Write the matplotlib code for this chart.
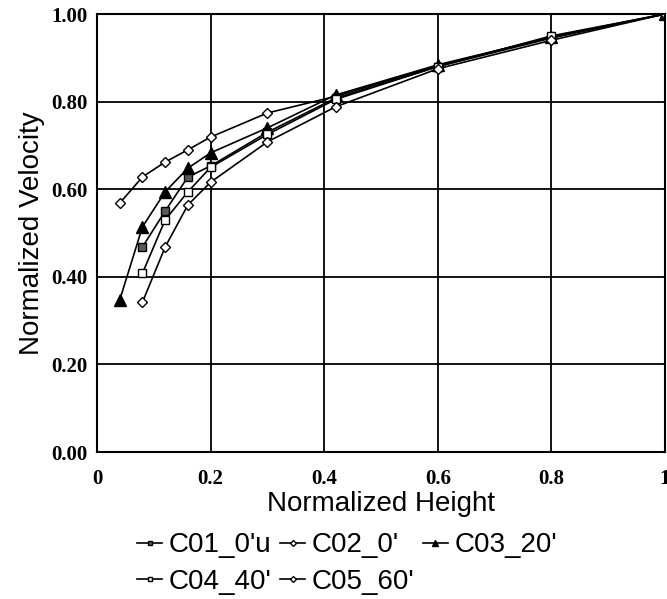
import matplotlib
matplotlib.use("Agg")
import matplotlib.pyplot as plt

# normalized heights shared by all runs
height = [0.04, 0.08, 0.12, 0.16, 0.2, 0.3, 0.42, 0.6, 0.8, 1.0]
height_b = [0.08, 0.12, 0.16, 0.2, 0.3, 0.42, 0.6, 0.8, 1.0]

c01 = [0.468, 0.550, 0.628, 0.653, 0.730, 0.808, 0.880, 0.945, 1.0]
c02 = [0.568, 0.628, 0.662, 0.690, 0.719, 0.774, 0.812, 0.882, 0.948, 1.0]
c03 = [0.347, 0.514, 0.594, 0.648, 0.683, 0.740, 0.815, 0.884, 0.947, 1.0]
c04 = [0.408, 0.530, 0.594, 0.650, 0.725, 0.805, 0.880, 0.950, 1.0]
c05 = [0.342, 0.468, 0.564, 0.616, 0.708, 0.788, 0.875, 0.940, 1.0]

labels = ["C01_0'u", "C02_0'", "C03_20'", "C04_40'", "C05_60'"]

fig = plt.figure(figsize=(6.67, 5.99), dpi=100)
ax = fig.add_axes([97 / 667, 1 - 452 / 599, 568 / 667, 438 / 599])

ax.plot(height_b, c01, color="k", lw=1.2, marker="s", ms=6, mfc="0.35", mec="k", label=labels[0])
ax.plot(height, c02, color="k", lw=1.2, marker="D", ms=5, mfc="white", mec="k", label=labels[1])
ax.plot(height, c03, color="k", lw=1.2, marker="^", ms=8, mfc="k", mec="k", label=labels[2])
ax.plot(height_b, c04, color="k", lw=1.2, marker="s", ms=6, mfc="white", mec="k", label=labels[3])
ax.plot(height_b, c05, color="k", lw=1.2, marker="D", ms=5, mfc="white", mec="k", label=labels[4])

ax.set_xlim(0, 1)
ax.set_ylim(0, 1)
ax.set_xticks([0, 0.2, 0.4, 0.6, 0.8, 1.0])
ax.set_xticklabels(["0", "0.2", "0.4", "0.6", "0.8", "1"])
ax.set_yticks([0, 0.2, 0.4, 0.6, 0.8, 1.0])
ax.set_yticklabels(["0.00", "0.20", "0.40", "0.60", "0.80", "1.00"])
ax.grid(True, color="k", lw=1.3)
ax.tick_params(length=0, labelsize=15)
ax.tick_params(axis="x", pad=12)
ax.tick_params(axis="y", pad=7)
for lab in ax.get_xticklabels() + ax.get_yticklabels():
    lab.set_fontfamily("Liberation Serif")
    lab.set_fontweight("bold")
for sp in ax.spines.values():
    sp.set_linewidth(1.5)

ax.set_xlabel("Normalized Height", fontsize=20, family="Liberation Sans", labelpad=2)
ax.set_ylabel("Normalized Velocity", fontsize=20, family="Liberation Sans", labelpad=4)

# legend reads row by row: reorder for matplotlib's column filling
handles, labs = ax.get_legend_handles_labels()
order = [0, 3, 1, 4, 2]
fig.legend([handles[i] for i in order], [labs[i] for i in order],
           loc="lower left", bbox_to_anchor=(137 / 667, 0.007), ncol=3, frameon=False,
           prop={"family": "Liberation Sans", "size": 20}, handlelength=0.9,
           handletextpad=0.25, columnspacing=0.3, labelspacing=0.38, markerscale=0.6,
           borderpad=0, borderaxespad=0)

fig.savefig("out.png", dpi=100)
